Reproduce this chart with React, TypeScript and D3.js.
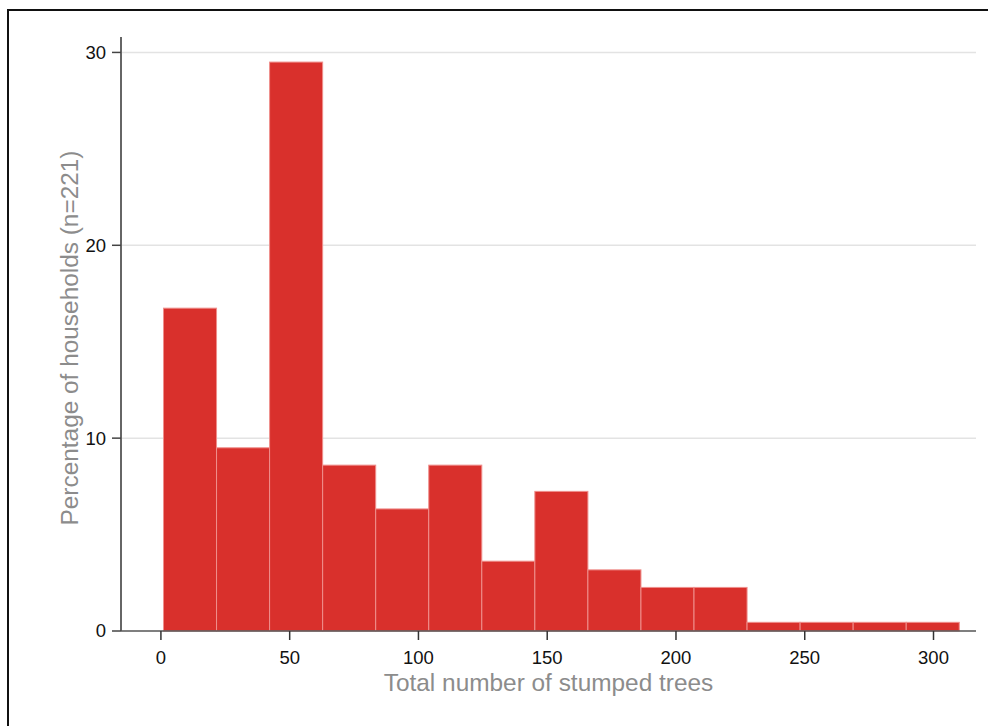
import React from 'react';
import * as d3 from 'd3';

// histogram bins: start at 1, 15 bins of width 20.6 up to 310
const binStart = 1;
const binWidth = 20.6;
const percentages = [16.74, 9.5, 29.5, 8.6, 6.33, 8.6, 3.62, 7.24, 3.17, 2.26, 2.26, 0.45, 0.45, 0.45, 0.45];
const xTicks = [0, 50, 100, 150, 200, 250, 300];
const yTicks = [0, 10, 20, 30];

const W = 988;
const H = 726;

const App = () => {
    const x = d3.scaleLinear().domain([-15.5, 316.5]).range([121, 976]);
    const y = d3.scaleLinear().domain([0, 30.8]).range([631, 37]);

    const bins = percentages.map((p, i) => ({
        x0: binStart + i * binWidth,
        x1: binStart + (i + 1) * binWidth,
        value: p,
    }));

    const font = 'Arial, "Liberation Sans", Helvetica, sans-serif';

    return (
        <svg width={W} height={H} style={{ position: 'absolute', left: 0, top: 0 }} fontFamily={font}>
            <rect x={0} y={0} width={W} height={H} fill="#fff" />
            {/* outer frame */}
            <rect x={8} y={10} width={W + 20} height={H + 20} fill="none" stroke="#111" strokeWidth={2} />

            {/* gridlines */}
            {yTicks.filter((t) => t > 0).map((t) => (
                <line key={t} x1={x.range()[0]} x2={x.range()[1]} y1={y(t)} y2={y(t)} stroke="#e3e3e3" strokeWidth={1.5} />
            ))}

            {/* bars */}
            {bins.map((b, i) => (
                <rect
                    key={i}
                    x={x(b.x0)}
                    y={y(b.value)}
                    width={x(b.x1) - x(b.x0)}
                    height={y(0) - y(b.value)}
                    fill="#d9302c"
                    stroke="#ef8f8c"
                    strokeWidth={1}
                />
            ))}

            {/* y axis */}
            <line x1={121} x2={121} y1={y.range()[1]} y2={y(0)} stroke="#666" strokeWidth={2} />
            {yTicks.map((t) => (
                <g key={t}>
                    <line x1={112} x2={121} y1={y(t)} y2={y(t)} stroke="#444" strokeWidth={1.5} />
                    <text x={106} y={y(t)} dy="0.35em" textAnchor="end" fontSize={18.5} fill="#111">{t}</text>
                </g>
            ))}

            {/* x axis */}
            <line x1={x.range()[0]} x2={x.range()[1]} y1={y(0)} y2={y(0)} stroke="#555" strokeWidth={1.5} />
            {xTicks.map((t) => (
                <g key={t}>
                    <line x1={x(t)} x2={x(t)} y1={y(0)} y2={y(0) + 9} stroke="#333" strokeWidth={1.5} />
                    <text x={x(t)} y={664} textAnchor="middle" fontSize={18.5} fill="#111">{t}</text>
                </g>
            ))}

            {/* axis titles */}
            <text x={(x.range()[0] + x.range()[1]) / 2} y={691} textAnchor="middle" fontSize={24.4} fill="#8c8c8c">
                Total number of stumped trees
            </text>
            <text
                transform={`translate(78, 338) rotate(-90)`}
                textAnchor="middle"
                fontSize={24.4}
                fill="#8c8c8c"
            >
                Percentage of households (n=221)
            </text>
        </svg>
    );
};

export default App;
